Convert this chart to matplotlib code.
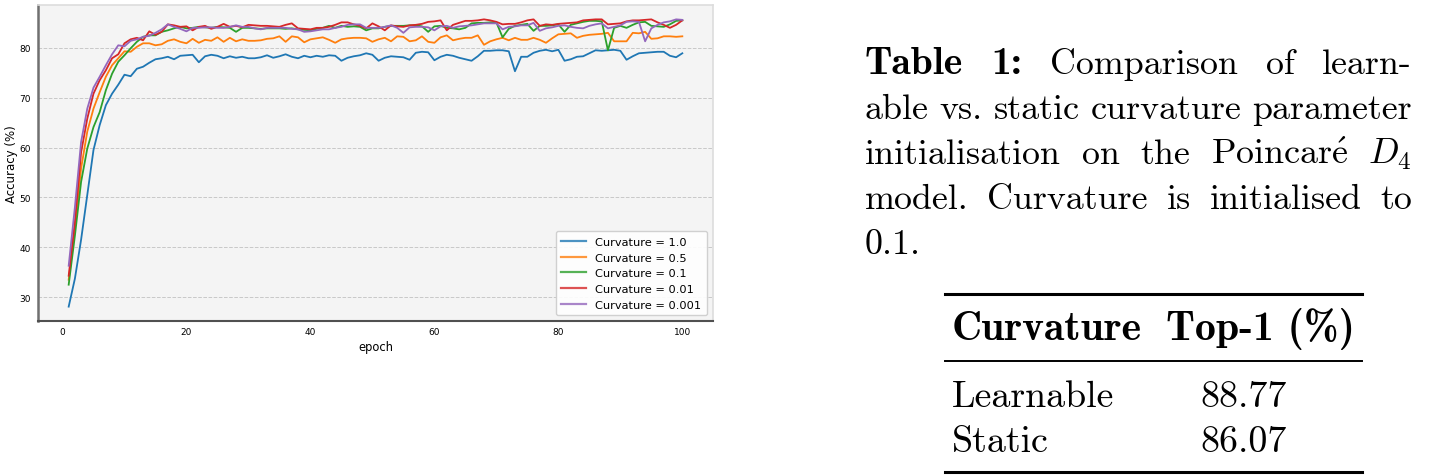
import matplotlib
matplotlib.use("Agg")
import matplotlib.pyplot as plt
from matplotlib.lines import Line2D
from matplotlib.transforms import IdentityTransform
import numpy as np

# Data
epochs = np.arange(1, 101)
acc_c1 = [28.1, 33.7, 41.5, 50.5, 59.5, 64.5, 68.5, 70.8, 72.6, 74.6,
          74.3, 75.8, 76.2, 77.0, 77.7, 77.9, 78.2, 77.7, 78.4, 78.5,
          78.6, 77.1, 78.3, 78.6, 78.4, 77.9, 78.3, 78.0, 78.2, 77.9,
          77.9, 78.1, 78.5, 78.0, 78.3, 78.7, 78.2, 77.9, 78.4, 78.1,
          78.4, 78.2, 78.5, 78.4, 77.4, 78.0, 78.3, 78.5, 78.9, 78.6,
          77.4, 78.0, 78.3, 78.2, 78.1, 77.6, 79.0, 79.2, 79.1, 77.5,
          78.2, 78.6, 78.4, 78.0, 77.7, 77.4, 78.3, 79.4, 79.4, 79.5,
          79.5, 79.3, 75.3, 78.2, 78.2, 79.0, 79.4, 79.6, 79.3, 79.6,
          77.4, 77.7, 78.2, 78.3, 78.9, 79.5, 79.4, 79.5, 79.6, 79.4,
          77.6, 78.3, 78.9, 79.0, 79.1, 79.2, 79.2, 78.4, 78.1, 78.9]
acc_c05 = [33.5, 44.0, 55.8, 63.2, 67.8, 71.1, 74.2, 76.5, 77.9, 79.3,
           79.2, 80.2, 80.9, 80.9, 80.5, 80.7, 81.4, 81.7, 81.2, 80.9,
           81.8, 81.0, 81.6, 81.4, 82.1, 81.2, 82.0, 81.3, 81.7, 81.4,
           81.4, 81.5, 81.8, 81.9, 82.3, 81.2, 82.3, 82.1, 81.1, 81.7,
           81.9, 82.1, 81.6, 81.0, 81.7, 81.9, 82.0, 82.0, 81.9, 81.2,
           81.7, 82.0, 81.3, 82.3, 82.2, 81.3, 81.5, 82.3, 81.2, 81.0,
           82.1, 82.5, 81.5, 81.8, 82.0, 82.0, 82.5, 80.6, 81.3, 81.7,
           82.0, 81.5, 82.0, 81.6, 81.6, 82.0, 81.6, 81.0, 81.9, 82.7,
           82.8, 82.9, 82.0, 82.4, 82.6, 82.7, 82.8, 83.0, 81.3, 81.3,
           81.3, 83.0, 82.9, 83.2, 81.8, 81.9, 82.3, 82.3, 82.2, 82.3]
acc_c01 = [32.5, 42.3, 53.1, 59.8, 64.1, 67.1, 71.5, 74.8, 77.2, 78.5,
           79.9, 81.2, 82.2, 82.5, 82.5, 83.2, 83.5, 83.9, 84.2, 83.9,
           84.0, 84.2, 84.1, 84.0, 84.2, 84.1, 84.0, 83.2, 84.0, 84.0,
           83.9, 83.8, 83.9, 83.9, 83.9, 83.8, 83.9, 83.7, 83.6, 83.5,
           83.8, 84.0, 84.4, 84.0, 84.4, 84.2, 84.3, 84.2, 83.5, 83.9,
           83.9, 84.2, 84.4, 84.4, 84.4, 84.5, 84.5, 84.3, 83.2, 84.3,
           84.4, 84.0, 83.9, 83.7, 84.0, 84.9, 85.0, 85.0, 85.1, 85.1,
           82.1, 83.8, 84.4, 84.6, 84.8, 83.4, 84.4, 84.4, 84.5, 84.7,
           83.2, 84.6, 84.9, 85.2, 85.4, 85.4, 85.3, 79.5, 84.0, 84.4,
           84.0, 84.6, 85.1, 85.2, 84.4, 84.3, 84.2, 84.7, 85.4, 85.5]
acc_c001 = [34.3, 45.0, 59.0, 65.8, 70.8, 73.5, 75.5, 77.9, 78.7, 80.9,
            81.7, 82.0, 81.5, 83.3, 82.6, 83.2, 84.7, 84.5, 84.2, 84.3,
            83.5, 84.2, 84.4, 83.8, 84.2, 84.8, 84.2, 84.4, 84.1, 84.6,
            84.5, 84.4, 84.4, 84.3, 84.2, 84.6, 84.9, 83.9, 83.8, 83.7,
            84.0, 84.0, 84.2, 84.6, 85.1, 85.1, 84.7, 84.4, 83.9, 84.9,
            84.3, 83.5, 84.5, 84.3, 84.2, 84.5, 84.6, 84.8, 85.2, 85.3,
            85.5, 83.5, 84.6, 85.0, 85.4, 85.4, 85.5, 85.7, 85.5, 85.2,
            84.7, 84.8, 84.8, 85.1, 85.5, 85.7, 84.4, 84.7, 84.6, 84.8,
            84.9, 85.0, 85.1, 85.5, 85.6, 85.7, 85.7, 84.7, 84.8, 84.9,
            85.3, 85.5, 85.5, 85.6, 85.7, 85.1, 84.6, 84.0, 84.6, 85.5]
acc_c0001 = [36.3, 48.0, 61.1, 67.8, 72.0, 74.2, 76.5, 78.7, 80.5, 80.3,
             81.4, 81.7, 82.2, 82.4, 83.0, 83.7, 84.7, 84.2, 83.8, 83.3,
             84.0, 84.0, 84.1, 84.1, 84.0, 84.0, 84.2, 84.5, 84.2, 84.2,
             83.9, 83.7, 84.0, 84.0, 84.0, 84.0, 83.8, 83.7, 83.2, 83.3,
             83.5, 83.7, 83.7, 84.0, 84.2, 84.6, 84.7, 84.7, 84.0, 84.0,
             84.0, 84.2, 84.5, 84.0, 83.0, 84.1, 84.2, 84.2, 84.1, 83.5,
             84.3, 84.4, 84.0, 84.3, 84.4, 84.5, 84.7, 84.9, 84.9, 84.9,
             83.7, 84.2, 84.3, 84.5, 84.5, 85.0, 83.4, 83.9, 84.1, 84.4,
             84.5, 84.2, 84.0, 83.9, 84.4, 84.7, 84.9, 83.9, 84.2, 84.5,
             85.2, 85.3, 85.2, 81.3, 83.9, 84.6, 85.1, 85.3, 85.7, 85.6]
series = [acc_c1, acc_c05, acc_c01, acc_c001, acc_c0001]
labels = ['Curvature = 1.0', 'Curvature = 0.5', 'Curvature = 0.1',
          'Curvature = 0.01', 'Curvature = 0.001']
colors = ['#1f77b4', '#ff7f0e', '#2ca02c', '#d62728', '#9467bd']

# table
table_header = ['Curvature', 'Top-1 (%)']
table_rows = [['Learnable', '88.77'], ['Static', '86.07']]

W, H = 1440, 477
plt.rcParams['mathtext.fontset'] = 'cm'
fig = plt.figure(figsize=(W / 100, H / 100), dpi=100)

# --- chart ---
ax = fig.add_axes([38 / W, 1 - 322 / H, 675 / W, 316 / H])
ax.set_facecolor('#f4f4f4')
for s, c, lab in zip(series, colors, labels):
    ax.plot(epochs, s, color=c, lw=1.3, label=lab)
ax.grid(axis='y', ls='--', color='#c8c8c8', lw=0.7)
ax.set_axisbelow(True)
ax.spines['left'].set_color('#707070')
ax.spines['left'].set_linewidth(1.8)
ax.spines['bottom'].set_color('#505050')
ax.spines['bottom'].set_linewidth(1.5)
for k in ['top', 'right']:
    ax.spines[k].set_color('#dddddd')
    ax.spines[k].set_linewidth(1.2)
ax.tick_params(length=0, labelsize=6.5)
ax.tick_params(axis='y', pad=5)
ax.tick_params(axis='x', pad=4)
ax.set_xlabel('epoch', fontsize=8.3, labelpad=3)
ax.set_ylabel('Accuracy (%)', fontsize=8.5, labelpad=1)
leg = ax.legend(loc='lower right', fontsize=8.2, framealpha=0.9,
                edgecolor='#cccccc', handlelength=2.2, borderpad=0.5,
                labelspacing=0.5, borderaxespad=0.5)
for l in leg.get_lines():
    l.set_linewidth(1.6)
    l.set_alpha(0.8)

# --- caption with justified lines ---
r = fig.canvas.get_renderer()
REG, BLD = 'cmr10', 'cmb10'
BOLD_SCALE = 1.1


def txt(x, y, s, fam, fs, ha='left'):
    if fam == BLD:
        fs = fs * BOLD_SCALE
    return fig.text(x, H - y, s, family=fam, fontsize=fs, ha=ha, va='baseline',
                    transform=IdentityTransform())


def width(s, fam, fs):
    t = txt(0, 0, s, fam, fs)
    w = t.get_window_extent(r).width
    t.remove()
    return w


x0, x1 = 865, 1412
probe = ['able', 'vs.', 'static', 'curvature', 'parameter']
s20 = sum(width(w, REG, 20) for w in probe)
fs = (x1 - x0) / (s20 / 20 + 4 * 0.3 * 100 / 72)

lines = [
    [('Table', BLD), ('1:', BLD), ('Comparison', REG), ('of', REG), ('learn-', REG)],
    [('able', REG), ('vs.', REG), ('static', REG), ('curvature', REG), ('parameter', REG)],
    [('initialisation', REG), ('on', REG), ('the', REG),
     (r'Poincar$\acute{\mathrm{e}}$', REG), (r'$D_4$', REG)],
    [('model.', REG), ('Curvature', REG), ('is', REG), ('initialised', REG), ('to', REG)],
]
baselines = [74, 119, 164, 209, 254]
for words, yb in zip(lines, baselines):
    ws = [width(w, f, fs) for w, f in words]
    gap = (x1 - x0 - sum(ws)) / (len(words) - 1)
    x = x0
    for (w, f), wd in zip(words, ws):
        txt(x, yb, w, f, fs)
        x += wd + gap
txt(x0, baselines[4], '0.1.', REG, fs)

# --- table ---
tfs = 20 * 163 / width('Learnable', REG, 20)
tx0, tx1 = 945, 1362
c0, c1 = 952, 1200
for y, lw in [(295, 2.2), (362, 1.4), (473, 2.2)]:
    fig.add_artist(Line2D([tx0, tx1], [H - y, H - y], lw=lw, color='black',
                          transform=IdentityTransform()))
txt(c0, 340, table_header[0], BLD, tfs)
txt(tx1 - 7, 340, table_header[1], BLD, tfs, ha='right')
for row, yb in zip(table_rows, [407, 452]):
    txt(c0, yb, row[0], REG, tfs)
    txt(c1, yb, row[1], REG, tfs)

fig.savefig('out.png', dpi=100)
